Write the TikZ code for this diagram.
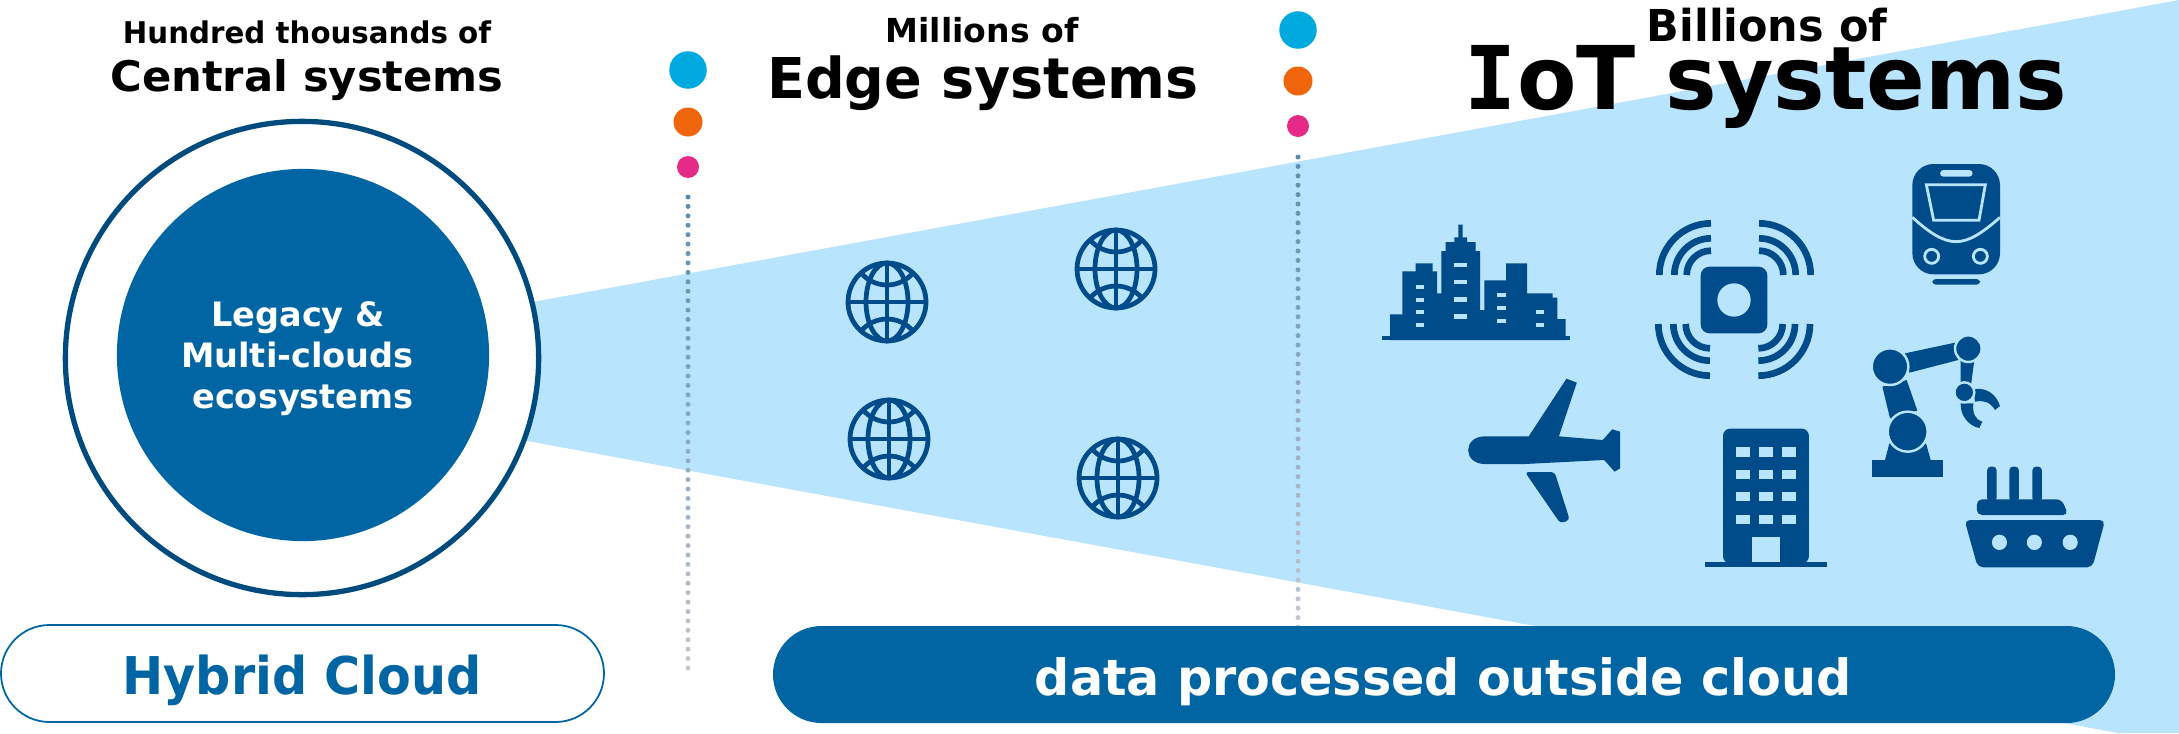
\documentclass[tikz,border=0pt]{standalone}
\usepackage{fontspec}
\setmainfont{DejaVu Sans}
\newfontfamily\serifI{DejaVu Sans Mono}
\usetikzlibrary{calc,shapes.misc}
\definecolor{coneblue}{HTML}{B9E4FE}
\definecolor{coreblue}{HTML}{0065A2}
\definecolor{iconblue}{HTML}{004C8A}
\definecolor{ringblue}{HTML}{004B7D}
\definecolor{dotcyan}{HTML}{00A9DE}
\definecolor{dotorange}{HTML}{EF650B}
\definecolor{dotpink}{HTML}{E62A87}
\definecolor{dottop}{HTML}{5A8DB0}
\definecolor{dotend}{HTML}{C4C8D2}
\newcommand{\fs}[1]{\fontsize{#1}{#1}\selectfont\bfseries}
\newcommand{\squeeze}[2]{\scalebox{#1}[1]{#2}}
\tikzset{
  heading/.style={anchor=base,inner sep=0pt,text=black},
  corelabel/.style={anchor=base,inner sep=0pt,text=white,font=\fs{9.55}},
  bigdot/.style={circle,inner sep=0pt,minimum size=37.5*0.01cm,fill=dotcyan},
  middot/.style={circle,inner sep=0pt,minimum size=29*0.01cm,fill=dotorange},
  smalldot/.style={circle,inner sep=0pt,minimum size=22*0.01cm,fill=dotpink},
  pill/.style={rounded rectangle,inner sep=0pt,minimum height=97*0.01cm},
  iconbody/.style={fill=iconblue,draw=none},
  iconhole/.style={fill=coneblue,draw=none},
  iconring/.style={fill=iconblue,draw=coneblue,line width=0.7pt},
  iconstroke/.style={draw=iconblue,line width=1.35pt},
}
\begin{document}
\begin{tikzpicture}[x=0.01cm,y=-0.01cm]
\useasboundingbox (0,0) rectangle (2179,733);
\fill[coneblue] (500,308) -- (2179,0) -- (2179,733) -- (2118,733) -- (500,436) -- cycle;

\node[circle,draw=ringblue,fill=white,line width=1.5pt,minimum size=4.73cm,inner sep=0pt] (central) at (302,358) {};
\node[circle,fill=coreblue,minimum size=3.72cm,inner sep=0pt] (legacy) at (303,355) {};
\node[corelabel] (legacyA) at (298,326) {Legacy \&};
\node[corelabel] (legacyB) at (297.5,367) {Multi-clouds};
\node[corelabel] (legacyC) at (303,408) {ecosystems};

\node[heading,font=\fs{8.5}] (hundred) at (307,43) {\squeeze{.98}{Hundred thousands of}};
\node[heading,font=\fs{12}] (centralsys) at (307,91) {\squeeze{1.025}{Central systems}};
\node[heading,font=\fs{9.4}] (millions) at (982,42) {Millions of};
\node[heading,font=\fs{16}] (edgesys) at (983,98) {\squeeze{.987}{Edge systems}};
\node[heading,font=\fs{12.5}] (billions) at (1767,41) {\squeeze{.977}{Billions of}};
\node[heading,font=\fs{25}] (iotsys) at (1766,109) {\squeeze{.985}{{\serifI I}oT systems}};

\node[bigdot] (cyanA) at (688,70) {};
\node[middot] (orangeA) at (688,122) {};
\node[smalldot] (pinkA) at (688,167) {};
\node[bigdot] (cyanB) at (1298,30) {};
\node[middot] (orangeB) at (1298,81) {};
\node[smalldot] (pinkB) at (1298,126) {};

\coordinate (lineAtop) at (688,197);
\coordinate (lineAend) at (688,668);
\coordinate (lineBtop) at (1298,157);
\coordinate (lineBend) at (1298,627);
\foreach \i [evaluate=\i as \t using \i/50, evaluate=\i as \p using 100-2*\i] in {0,...,50} {
  \fill[dottop!\p!dotend] ($(lineAtop)!\t!(lineAend)$) circle (2.5);
  \fill[dottop!\p!dotend] ($(lineBtop)!\t!(lineBend)$) circle (2.5);
}

\node[pill,draw=coreblue,fill=white,line width=0.5pt,minimum width=603*0.01cm] (hybrid) at (302.5,673.5) {};
\node[heading,text=coreblue,font=\fs{14.8}] (hybridtext) at (302,694) {\squeeze{.945}{Hybrid Cloud}};
\node[pill,fill=coreblue,minimum width=1342*0.01cm] (outside) at (1444,674.5) {};
\node[heading,text=white,font=\fs{14.2}] (outsidetext) at (1443,695) {\squeeze{.985}{data processed outside cloud}};

% globes
\foreach \gx/\gy in {887/302,1116/269,889/439,1118/478} {
  \begin{scope}[shift={(\gx,\gy)},iconstroke]
    \draw (0,0) circle (39);
    \draw (0,0) ellipse [x radius=21,y radius=39];
    \draw (0,-39) -- (0,39) (-39,0) -- (39,0);
    \draw (-26,-29) .. controls (-12,-13) and (12,-13) .. (26,-29);
    \draw (-26,29) .. controls (-12,13) and (12,13) .. (26,29);
  \end{scope}
}

% city and sensor
\begin{scope}[shift={(1340,140)},scale=1/3]
  \fill[iconbody] (125,588) -- (690,588) -- (690,600) -- (125,600) -- cycle;
  \fill[iconbody] (150,600) |- (187,523) |- (227,394) |- (278,370) |- (291,394) |- (304,460) |- (317,333) |- (343,306) |- (355,292) |- (368,254) |- (381,292) |- (407,306) |- (420,333) |- (433,510) |- (498,421) |- (561,370) |- (638,460) |- (652,473) |- (677,537) |- cycle;
  \foreach \y in {434,473,511,549} \fill[iconhole] (227,\y) rectangle ++(26,12);
  \foreach \y in {369,420,472,523} \fill[iconhole] (341,\y) rectangle ++(40,13);
  \foreach \y in {460,498,536} \fill[iconhole] (472,\y) rectangle ++(26,12);
  \foreach \y in {511,549} \fill[iconhole] (587,\y) rectangle ++(26,12);

  \fill[iconbody,rounded corners=2.5pt] (1082,380) rectangle (1282,580);
  \fill[iconhole] (1182,480) circle (50);
  \foreach \r in {155,110,73} {
    \draw[iconblue,line width=1.9pt] (1113-\r,405) arc [start angle=180,end angle=270,radius=\r];
    \draw[iconblue,line width=1.9pt] (1257,405-\r) arc [start angle=270,end angle=360,radius=\r];
    \draw[iconblue,line width=1.9pt] (1110-\r,552) arc [start angle=180,end angle=90,radius=\r];
    \draw[iconblue,line width=1.9pt] (1255,552+\r) arc [start angle=90,end angle=0,radius=\r];
  }
\end{scope}

% train
\begin{scope}[shift={(1820,140)},scale=1/3]
  \fill[iconbody,rounded corners=6pt] (277,72) rectangle (540,403);
  \fill[iconhole,rounded corners=1pt] (360,90) rectangle (458,110);
  \draw[coneblue,line width=0.8pt] (319,134) -- (496,134) -- (477,241) -- (341,241) -- cycle;
  \draw[coneblue,line width=0.8pt] (277,232) .. controls (330,280) and (370,305) .. (408,305) .. controls (446,305) and (486,280) .. (540,232);
  \draw[coneblue,line width=0.8pt] (335,349) circle (21) (481,349) circle (21);
  \fill[iconbody,rounded corners=1pt] (337,417) rectangle (480,434);
\end{scope}

% plane, building and ship
\begin{scope}[shift={(1440,370)},xscale=1/2.12,yscale=1/3]
  \fill[iconbody] (95,199) -- (188,199) -- (268,26) -- (290,38) -- (252,199) -- (345,210) -- (365,178) -- (382,185) -- (382,295) -- (370,305) -- (348,270) -- (180,282) -- (95,282) .. controls (48,282) and (48,199) .. cycle;
  \fill[iconbody,rounded corners=1pt] (180,306) -- (243,306) -- (275,450) -- (255,460) -- cycle;

  \fill[iconbody,rounded corners=2pt] (600,580) -- (600,176) -- (782,176) -- (782,580) -- cycle;
  \fill[iconbody] (562,576) rectangle (820,590);
  \foreach \y in {232,299,366,434} \foreach \x in {628,676,724} \fill[iconhole] (\x,\y) rectangle ++(30,28);
  \fill[iconhole] (662,500) rectangle (720,576);

  \foreach \x in {1160,1207,1256} \fill[iconbody,rounded corners=1pt] (\x,395) -- (\x,290) -- (\x+20,290) -- (\x+20,395) -- cycle;
  \fill[iconbody,rounded corners=1.5pt] (1138,435) -- (1138,388) -- (1318,388) -- (1332,435) -- cycle;
  \fill[iconbody,rounded corners=1.5pt] (1112,450) -- (1410,450) -- (1383,592) -- (1140,592) -- cycle;
  \foreach \x in {1186,1260,1336} \fill[iconhole] (\x,517) ellipse [x radius=16,y radius=23];
\end{scope}

% robot arm
\begin{scope}[shift={(1840,320)},scale=1/3]
  \fill[iconbody] (97,420) rectangle (310,472);
  \fill[iconbody] (135,420) -- (148,370) -- (258,370) -- (272,420) -- cycle;
  \fill[iconbody] (127,200) -- (200,180) -- (232,272) -- (150,295) -- cycle;
  \fill[iconbody] (195,100) -- (345,68) -- (355,120) -- (208,158) -- cycle;
  \fill[iconbody] (362,120) -- (403,120) -- (393,195) -- (362,195) -- cycle;
  \fill[iconbody] (400,208) .. controls (440,200) and (470,225) .. (480,258) -- (465,270) .. controls (450,245) and (430,240) .. (405,245) -- cycle;
  \fill[iconbody] (362,250) .. controls (360,285) and (385,318) .. (418,324) -- (427,305) .. controls (405,298) and (397,280) .. (400,250) -- cycle;
  \draw[iconring] (203,335) circle (60);
  \draw[iconring] (150,140) circle (55);
  \draw[iconring] (385,86) circle (40);
  \draw[iconring] (373,217) circle (30);
\end{scope}
\end{tikzpicture}
\end{document}
